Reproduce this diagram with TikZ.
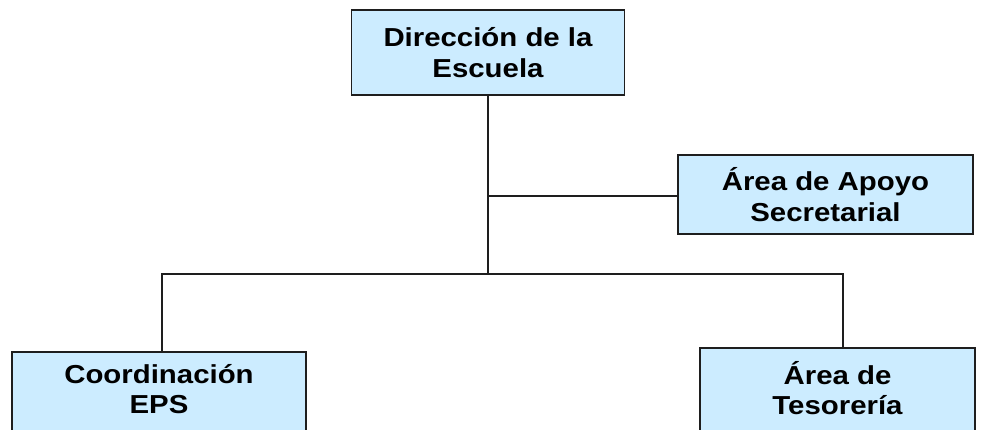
\documentclass[tikz,border=0pt]{standalone}
\usepackage{xcolor}
\usepackage{fontspec}
\setmainfont[FakeStretch=1.13]{Liberation Sans}
\usepackage{tikz}

\definecolor{boxblue}{RGB}{204,236,255}
\definecolor{edgegray}{RGB}{30,30,30}

\tikzset{
  unit/.style={draw=edgegray, line width=1.5pt, fill=boxblue, align=center,
    font=\fontsize{26}{31}\selectfont\bfseries, inner sep=0pt},
  cutunit/.style={unit, anchor=north, minimum height=100pt},
  unitlabel/.style={align=center, font=\fontsize{26}{30}\selectfont\bfseries, inner sep=0pt, anchor=base},
  link/.style={draw=edgegray, line width=1.6pt}
}

\begin{document}
\begin{tikzpicture}[x=1pt,y=-1pt]
        \useasboundingbox (0,0) rectangle (983,429);

        \node[unit, minimum width=273pt, minimum height=85pt] (dir) at (488,52.5) {Dirección de la\\Escuela};
        \node[unit, minimum width=295pt, minimum height=79pt] (apoyo) at (825.5,194.5) {Área de Apoyo\\Secretarial};
        \node[cutunit, minimum width=294pt] (eps) at (159,351) {};
        \node[cutunit, minimum width=275pt] (teso) at (837.5,347) {};
        \node[unitlabel] (epslabel) at (159,413) {Coordinación\\EPS};
        \node[unitlabel] (tesolabel) at (837.5,414) {Área de\\Tesorería};

        \coordinate (fork) at (488,196);
        \coordinate (bar) at (488,274);

        \draw[link] (dir.south) -- (bar);
        \draw[link] (fork) -- (fork -| apoyo.west);
        \draw[link] ([xshift=3pt]eps.north) |- (bar) -| ([xshift=5.5pt]teso.north);
    \end{tikzpicture}
\end{document}
